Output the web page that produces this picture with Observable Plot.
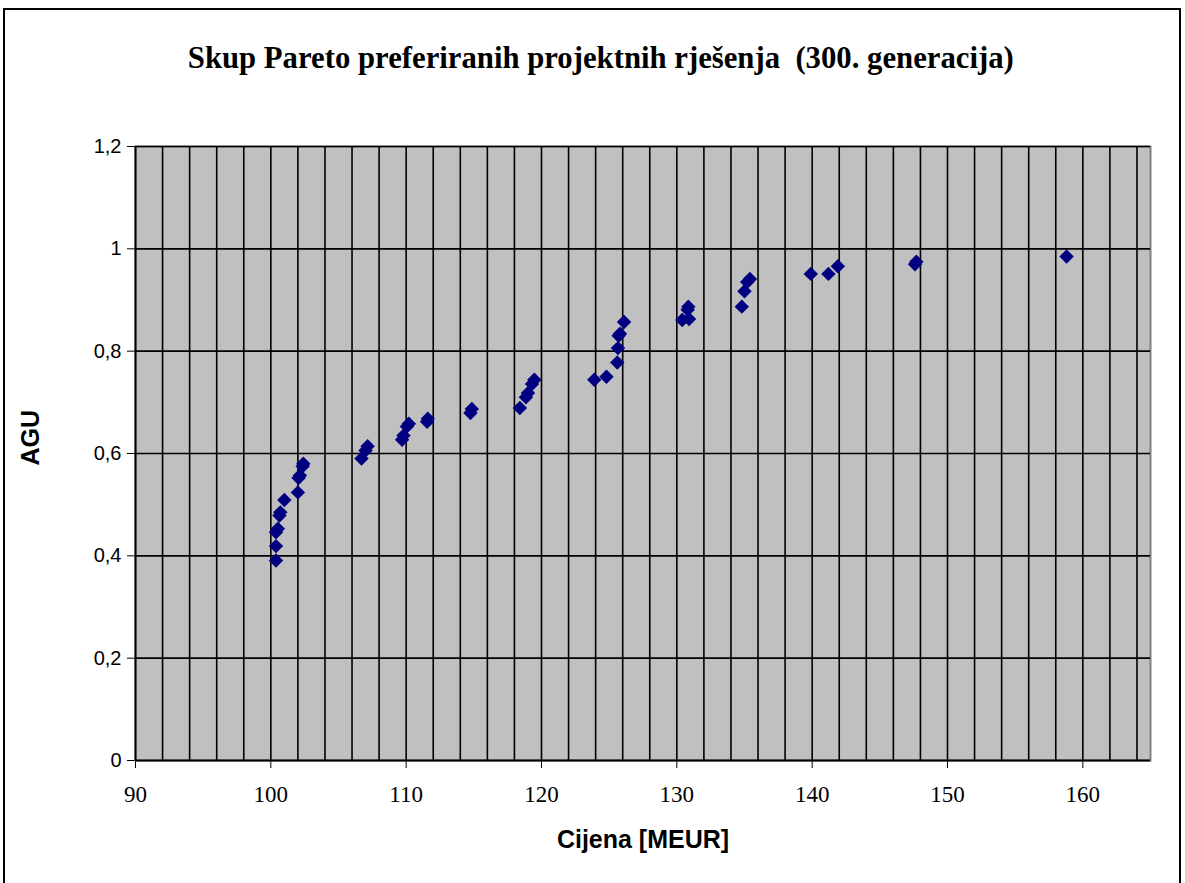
<!DOCTYPE html>
<html>
<head>
<meta charset="utf-8">
<script src="https://cdn.jsdelivr.net/npm/d3@7"></script>
<script src="https://cdn.jsdelivr.net/npm/@observablehq/plot@0.6"></script>
<style>
  html, body { margin: 0; padding: 0; background: #fff; }
  #wrap { position: relative; width: 1185px; height: 883px; overflow: hidden; }
  #border { position: absolute; left: 3px; top: 8px; width: 1178px; height: 900px; border: 2px solid #000; box-sizing: border-box; }
  #title { position: absolute; left: 0; top: 37px; width: 1185px; text-align: center;
           font-family: "Liberation Serif", serif; font-weight: bold; font-size: 32px; line-height: 40px;
           transform: translateX(8px) scaleX(0.96); transform-origin: 600px 0; white-space: nowrap; }
  #chart { position: absolute; left: 0; top: 100px; }
</style>
</head>
<body>
<div id="wrap">
  <div id="border"></div>
  <div id="title">Skup Pareto preferiranih projektnih rješenja&nbsp; (300. generacija)</div>
  <div id="chart"></div>
</div>
<script>
const xLabel = "Cijena [MEUR]";
const yLabel = "AGU";

const xTicks = [90, 100, 110, 120, 130, 140, 150, 160];
const yTicks = [0, 0.2, 0.4, 0.6, 0.8, 1.0, 1.2];
const xGrid = [92, 94, 96, 98, 100, 102, 104, 106, 108, 110, 112, 114, 116, 118, 120, 122, 124, 126, 128, 130, 132, 134, 136, 138, 140, 142, 144, 146, 148, 150, 152, 154, 156, 158, 160, 162, 164];
const yGrid = [0.2, 0.4, 0.6, 0.8, 1.0, 1.2];

const cijena = [
  100.38, 100.38, 100.38, 100.52, 100.64, 100.7, 101.0, 102.0, 102.05, 102.15, 102.35, 102.4,
  106.7, 107.0, 107.15,
  109.7, 109.8, 110.06, 110.2,
  111.55, 111.6,
  114.75, 114.85,
  118.4, 118.85, 119.0, 119.3, 119.47,
  123.9, 124.8, 125.6, 125.65, 125.7, 125.8, 126.1,
  130.4, 130.9, 130.8, 130.85,
  134.8, 135.0, 135.2, 135.4,
  139.9, 141.2, 141.9,
  147.6, 147.7,
  158.8
];
const agu = [
  0.391, 0.419, 0.446, 0.453, 0.479, 0.485, 0.509, 0.524, 0.552, 0.557, 0.575, 0.580,
  0.590, 0.606, 0.614,
  0.627, 0.635, 0.653, 0.658,
  0.662, 0.668,
  0.679, 0.687,
  0.689, 0.710, 0.718, 0.736, 0.744,
  0.744, 0.750, 0.778, 0.806, 0.830, 0.834, 0.857,
  0.861, 0.863, 0.881, 0.887,
  0.887, 0.917, 0.935, 0.941,
  0.951, 0.951, 0.966,
  0.970, 0.975,
  0.985
];

const data = cijena.map((x, i) => ({x, y: agu[i]}));
const fmt = d => String(+d.toFixed(1)).replace(".", ",");
const sans = "Liberation Sans, Arial, sans-serif";
const serif = "Liberation Serif, Times New Roman, serif";

const plot = Plot.plot({
  width: 1185,
  height: 783,
  marginLeft: 135,
  marginRight: 35,
  marginTop: 46,
  marginBottom: 123,
  style: { fontFamily: sans, fontSize: "20px", color: "#000", background: "transparent" },
  x: { domain: [90, 165], ticks: xTicks, tickSize: 8, tickFormat: () => "", label: null },
  y: { domain: [0, 1.2], ticks: yTicks, tickSize: 8, tickPadding: 6, tickFormat: fmt, label: null },
  marks: [
    Plot.frame({ fill: "#c0c0c0", stroke: "#808080", strokeWidth: 2 }),
    Plot.ruleX(xGrid, { stroke: "#000", strokeWidth: 1.6 }),
    Plot.ruleY(yGrid, { stroke: "#000", strokeWidth: 1.6 }),
    Plot.ruleY([0], { stroke: "#000", strokeWidth: 2 }),
    Plot.ruleX([90], { stroke: "#000", strokeWidth: 2 }),
    Plot.dot(data, { x: "x", y: "y", symbol: "diamond2", r: 6.5, fill: "#000080", stroke: "none" }),
    Plot.text(xTicks, { x: d => d, frameAnchor: "bottom", dy: 41, text: d => String(d), fontFamily: serif, fontSize: 23 }),
    Plot.text([xLabel], { frameAnchor: "bottom", dy: 87, fontWeight: "bold", fontSize: 25, fontFamily: sans }),
    Plot.text([yLabel], { frameAnchor: "left", dx: -105, dy: 12, rotate: -90, fontWeight: "bold", fontSize: 25, fontFamily: sans })
  ]
});
document.getElementById("chart").appendChild(plot);
</script>
</body>
</html>
